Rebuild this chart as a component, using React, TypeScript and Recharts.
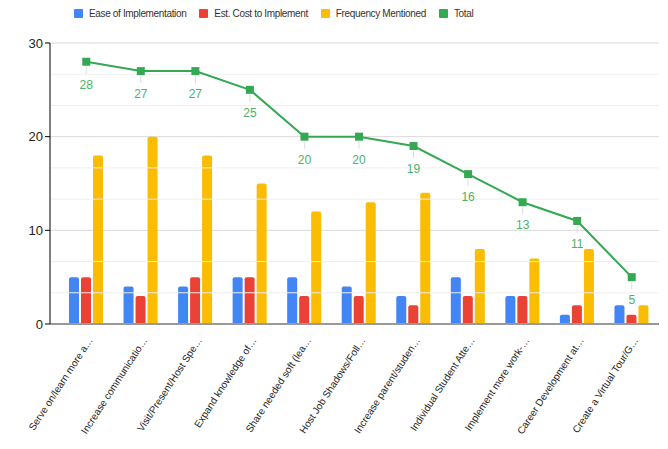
import React from 'react';
import { ComposedChart, Bar, Line, XAxis, YAxis, CartesianGrid, ReferenceLine, LabelList } from 'recharts';

const categories = [
    'Serve on/learn more a…',
    'Increase communicatio…',
    'Visit/Present/Host Spe…',
    'Expand knowledge of…',
    'Share needed soft (lea…',
    'Host Job Shadows/Foll…',
    'Increase parent/studen…',
    'Individual Student Atte…',
    'Implement more work-…',
    'Career Development at…',
    'Create a Virtual Tour/G…',
];
const ease = [5, 4, 4, 5, 5, 4, 3, 5, 3, 1, 2];
const cost = [5, 3, 5, 5, 3, 3, 2, 3, 3, 2, 1];
const frequency = [18, 20, 18, 15, 12, 13, 14, 8, 7, 8, 2];
const total = [28, 27, 27, 25, 20, 20, 19, 16, 13, 11, 5];
const yTicks = [0, 10, 20, 30];
const minorTicks = [10 / 3, 20 / 3, 40 / 3, 50 / 3, 70 / 3, 80 / 3];

const series = [
    { key: 'ease', name: 'Ease of Implementation', color: '#4285f4' },
    { key: 'cost', name: 'Est. Cost to Implement', color: '#ea4335' },
    { key: 'frequency', name: 'Frequency Mentioned', color: '#fbbc04' },
    { key: 'total', name: 'Total', color: '#34a853' },
];

const data = categories.map((name, i) => ({
    name,
    ease: ease[i],
    cost: cost[i],
    frequency: frequency[i],
    total: total[i],
}));

const FONT = 'Arial, "Liberation Sans", sans-serif';

const XTick = ({ x, y, payload }: any) => (
    <text
        x={x + 7}
        y={y + 8}
        transform={`rotate(-57 ${x + 7} ${y + 8})`}
        textAnchor="end"
        fontSize={10}
        fontFamily={FONT}
        fill="#222"
    >
        {payload.value}
    </text>
);

const SquareDot = ({ cx, cy }: any) => (
    <rect x={cx - 4} y={cy - 4} width={8} height={8} fill="#34a853" />
);

const TotalLabel = ({ x, y, value }: any) => (
    <g>
        <line x1={x} y1={y + 5} x2={x} y2={y + 12} stroke="#ddd" strokeWidth={1} />
        <text x={x} y={y + 27} textAnchor="middle" fontSize={12} fontFamily={FONT} fill="#4cb267">
            {value}
        </text>
    </g>
);

const App: React.FC = () => {
    return (
        <div style={{ position: 'absolute', left: 0, top: 0, width: 668, height: 449, background: '#fff', fontFamily: FONT }}>
            <div style={{ position: 'absolute', top: 8, left: 74, display: 'flex', alignItems: 'center', fontSize: 10, letterSpacing: -0.35, color: '#333' }}>
                {series.map((s) => (
                    <div key={s.key} style={{ display: 'flex', alignItems: 'center', marginRight: 13 }}>
                        <span style={{ width: 9, height: 9, background: s.color, borderRadius: 1, marginRight: 6, display: 'inline-block' }} />
                        <span>{s.name}</span>
                    </div>
                ))}
            </div>
            <ComposedChart
                width={668}
                height={449}
                data={data}
                margin={{ top: 43, right: 9, left: 0, bottom: 0 }}
                barSize={10}
                barGap={2}
            >
                <CartesianGrid vertical={false} stroke="#d9d9d9" />
                {minorTicks.map((v) => (
                    <ReferenceLine key={v} y={v} stroke="#efefef" ifOverflow="visible" />
                ))}
                <XAxis
                    dataKey="name"
                    interval={0}
                    height={125}
                    tick={<XTick />}
                    tickLine={false}
                    axisLine={{ stroke: '#999', strokeWidth: 2 }}
                    padding={{ left: 9, right: 0 }}
                />
                <YAxis
                    domain={[0, 30]}
                    ticks={yTicks}
                    width={50}
                    tick={{ fontSize: 13, fill: '#222', fontFamily: FONT }}
                    tickSize={5}
                    tickLine={{ stroke: '#000' }}
                    axisLine={{ stroke: '#000' }}
                />
                <Bar dataKey="ease" fill="#4285f4" radius={[2, 2, 0, 0]} isAnimationActive={false} />
                <Bar dataKey="cost" fill="#ea4335" radius={[2, 2, 0, 0]} isAnimationActive={false} />
                <Bar dataKey="frequency" fill="#fbbc04" radius={[2, 2, 0, 0]} isAnimationActive={false} />
                <Line
                    dataKey="total"
                    stroke="#34a853"
                    strokeWidth={2}
                    dot={<SquareDot />}
                    activeDot={false}
                    isAnimationActive={false}
                >
                    <LabelList dataKey="total" content={<TotalLabel />} />
                </Line>
            </ComposedChart>
        </div>
    );
};

export default App;
